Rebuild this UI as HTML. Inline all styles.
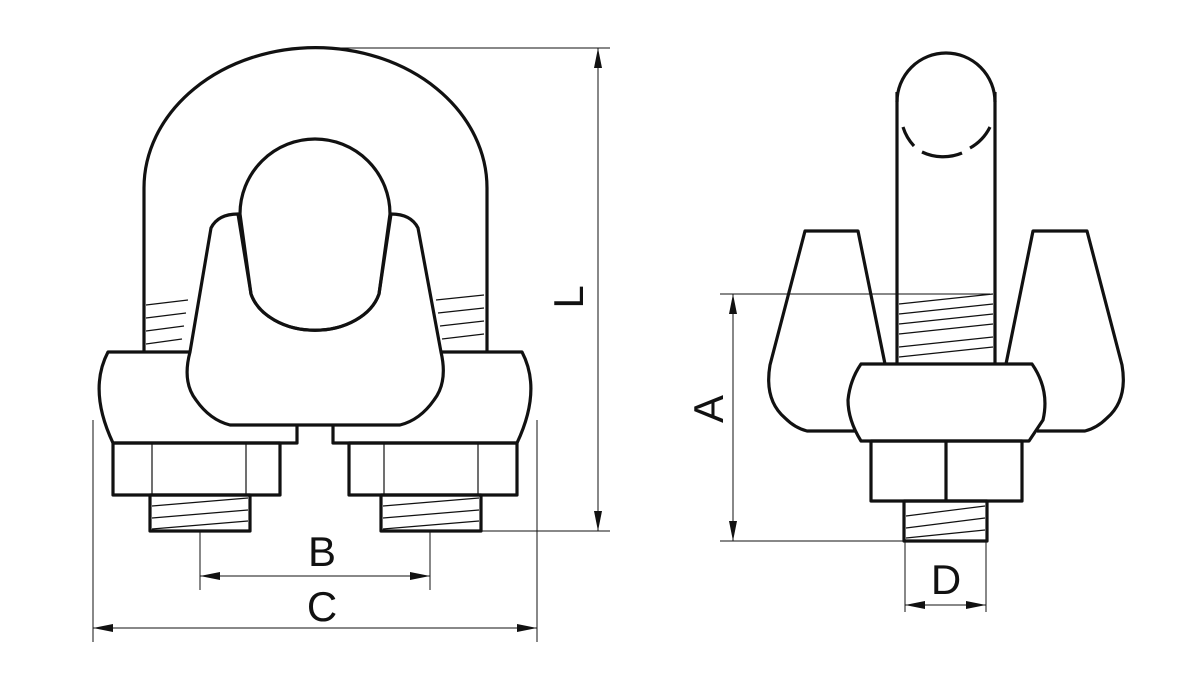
<!DOCTYPE html>
<html><head><meta charset="utf-8"><style>html,body{margin:0;padding:0;background:#fff}svg{display:block}</style></head><body>
<svg width="1183" height="676" viewBox="0 0 1183 676" xmlns="http://www.w3.org/2000/svg" font-family="Liberation Sans, sans-serif">
<defs>
<marker id="ar" viewBox="0 0 20 8" refX="20" refY="4" markerWidth="20" markerHeight="8" markerUnits="userSpaceOnUse" orient="auto-start-reverse"><path d="M0,0 L20,4 L0,8 Z" fill="#111"/></marker>
</defs>
<g fill="none" stroke="#111" stroke-width="1.2">
<!-- thread hatches left view -->
<path d="M146,305 L188,300 M146,318 L186,313 M146,331 L184,326 M146,344 L182,339"/>
<path d="M436,300 L484,295 M438,313 L484,308 M440,326 L484,321 M442,339 L484,334"/>
<path d="M152,506 L248,498 M152,518 L248,510 M152,529 L248,521"/>
<path d="M383,506 L479,498 M383,518 L479,510 M383,529 L479,521"/>
<path d="M152,443 V495 M246,443 V495 M384,443 V495 M478,443 V495"/>
<!-- right view threads -->
<path d="M899,304 L993,294 M899,314 L993,304 M899,324 L993,314 M899,334 L993,324 M899,347 L993,337 M899,357 L993,347"/>
<path d="M906,516 L985,506 M906,528 L985,518 M906,538 L985,530"/>
</g>
<g fill="none" stroke="#111" stroke-width="3.2" stroke-linejoin="round">
<!-- U bolt -->
<path d="M144,352 V188 A171,140 0 0 1 487,188 V352"/>
<!-- cable -->
<path d="M240,214 A75,75 0 1 1 390,214 L379,294 A66,48 0 0 1 251,294 Z" fill="#fff"/>
<!-- saddle -->
<path d="M238,214 Q218,214 211,228 L190,352 Q182,382 196,400 Q210,420 230,425 L400,425 Q420,420 434,400 Q448,382 441,352 L418,228 Q411,214 391,214 L379,294 A66,48 0 0 1 251,294 Z"/>
<!-- base block -->
<path d="M190,352 L108,352 Q88,390 113,443 L297,443 V425 M333,425 V443 L517,443 Q542,390 522,352 L441,352"/>
<!-- nuts -->
<rect x="113" y="443" width="167" height="52"/>
<rect x="349" y="443" width="168" height="52"/>
<rect x="150" y="495" width="100" height="36"/>
<rect x="381" y="495" width="100" height="36"/>
<!-- right view -->
<path d="M897,364 V92 M995,364 V92"/>
<path d="M897,102 A49,49 0 0 1 995,102"/>
<path d="M903,127 A49,49 0 0 0 914,146" />
<path d="M922,152 A49,49 0 0 0 962,153" />
<path d="M970,148 A49,49 0 0 0 990,127" />
<path d="M885,364 L858,231 L805,231 L770,365 Q764,400 785,418 Q795,428 807,431 L855,431"/>
<path d="M1006,364 L1033,231 L1087,231 L1122,365 Q1128,400 1107,418 Q1097,428 1085,431 L1037,431"/>
<path d="M861,364 L1032,364 Q1050,390 1043,420 L1029,441 L861,441 Q848,420 848,400 Q850,380 861,364 Z" fill="#fff"/>
<rect x="871" y="441" width="151" height="60"/>
<path d="M946,441 V501"/>
<rect x="904" y="501" width="83" height="40"/>
</g>
<!-- dimension lines -->
<g fill="none" stroke="#111" stroke-width="1">
<path d="M315,48 H610 M481,531 H610"/>
<path d="M598,48 V531" marker-start="url(#ar)" marker-end="url(#ar)"/>
<path d="M200,531 V590 M430,531 V590"/>
<path d="M200,576 H430" marker-start="url(#ar)" marker-end="url(#ar)"/>
<path d="M93,420 V642 M537,420 V642"/>
<path d="M93,628 H537" marker-start="url(#ar)" marker-end="url(#ar)"/>
<path d="M720,294 H990 M720,541 H905"/>
<path d="M733,294 V541" marker-start="url(#ar)" marker-end="url(#ar)"/>
<path d="M905,541 V612 M986,541 V612"/>
<path d="M905,605 H986" marker-start="url(#ar)" marker-end="url(#ar)"/>
</g>
<g fill="#111" font-size="42" text-anchor="middle">
<text x="322" y="566">B</text>
<text x="322" y="621">C</text>
<text x="946" y="594">D</text>
<text transform="translate(583,297) rotate(-90)">L</text>
<text transform="translate(723,409) rotate(-90)">A</text>
</g>
</svg>
</body></html>
